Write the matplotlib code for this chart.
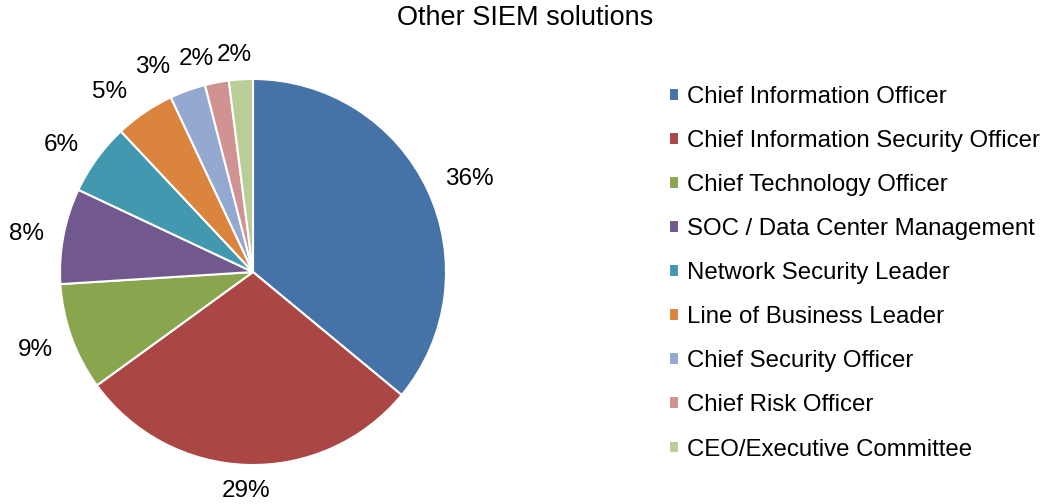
import numpy as np
import matplotlib.pyplot as plt

plt.rcParams['font.family'] = ['Liberation Sans', 'DejaVu Sans']

roles = ["Chief Information Officer", "Chief Information Security Officer",
         "Chief Technology Officer", "SOC / Data Center Management",
         "Network Security Leader", "Line of Business Leader",
         "Chief Security Officer", "Chief Risk Officer", "CEO/Executive Committee"]
shares = [36, 29, 9, 8, 6, 5, 3, 2, 2]
colors = ["#4572A7", "#AA4643", "#89A54E", "#71588F", "#4198AF",
          "#DB843D", "#93A9CF", "#D19392", "#B9CD96"]
# label placement: distance in pie radii, and a small angle nudge (deg) to keep small labels apart
label_dist = [1.22, 1.135, 1.2, 1.19, 1.19, 1.19, 1.18, 1.14, 1.13]
label_shift = [-2, 0, 0, 1.3, 2.5, 4.3, 6.3, 4.2, 1.4]

fig = plt.figure(figsize=(10.46, 5.04), dpi=100)
ax = fig.add_axes([60 / 1046, (504 - 272 - 193) / 504, 386 / 1046, 386 / 504])

wedges, texts, autotexts = ax.pie(shares, colors=colors, startangle=90, counterclock=False,
                                  radius=1, autopct="%d%%", pctdistance=1.18,
                                  wedgeprops=dict(edgecolor="white", linewidth=1.5),
                                  textprops=dict(fontsize=17.5, color="black"))
for w, t, d, s in zip(wedges, autotexts, label_dist, label_shift):
    ang = np.deg2rad((w.theta1 + w.theta2) / 2 + s)
    t.set_position((d * np.cos(ang), d * np.sin(ang)))

ax.set_xlim(-1, 1)
ax.set_ylim(-1, 1)
ax.set_aspect("equal")
ax.axis("off")

fig.text(0.502, 0.964, "Other SIEM solutions", ha="center", va="center", fontsize=19.5)

fig.legend(wedges, roles, loc="center left", bbox_to_anchor=(0.630, 0.458),
           frameon=False, fontsize=17.3, handlelength=0.45, handleheight=0.45,
           handletextpad=0.3, labelspacing=0.92, borderaxespad=0)

fig.savefig("out.png", dpi=100)
